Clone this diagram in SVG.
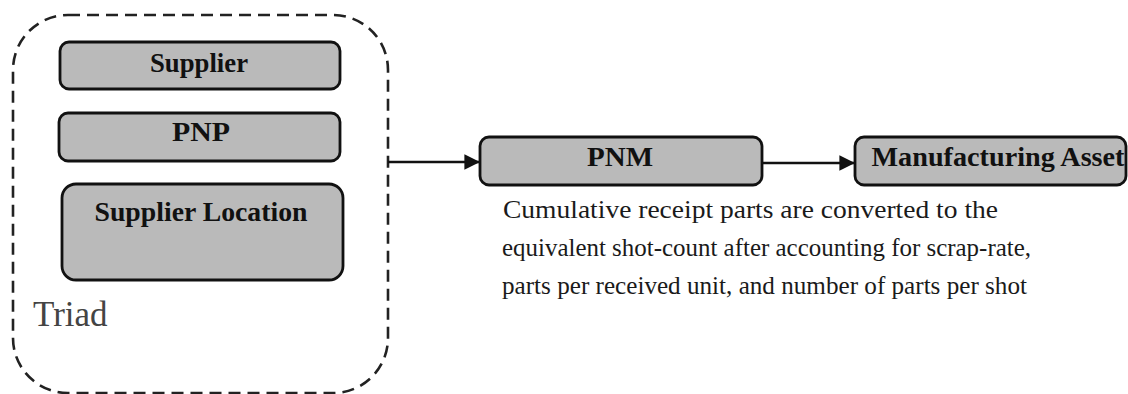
<svg xmlns="http://www.w3.org/2000/svg" width="1128" height="394" viewBox="0 0 1128 394">
  <style>
    .box { fill: #bababa; stroke: #111; stroke-width: 2.8; }
    .label { font-family: "Liberation Serif", "Times New Roman", serif; font-weight: bold; font-size: 27px; fill: #111; text-anchor: middle; }
    .note { font-family: "Liberation Serif", "Times New Roman", serif; font-size: 26px; fill: #1a1a1a; }
    .edge { fill: none; stroke: #111; stroke-width: 2.6; }
    .group { fill: none; stroke: #222; stroke-width: 2.6; stroke-dasharray: 12 7; }
  </style>
  <defs>
    <marker id="arrow" viewBox="0 0 10 10" refX="10" refY="5" markerWidth="7" markerHeight="6" markerUnits="strokeWidth" orient="auto">
      <path d="M0,0 L10,5 L0,10 Z" fill="#111"/>
    </marker>
  </defs>

  <!-- dashed grouping boundary -->
  <g id="triad">
    <rect class="group" x="13" y="15" width="375" height="378" rx="55" ry="55"/>
    <text x="33" y="326" font-family="'Liberation Serif', 'Times New Roman', serif" font-size="35" fill="#444">Triad</text>
  </g>

  <g id="supplier">
    <rect class="box" x="60" y="42" width="280" height="47" rx="9"/>
    <text class="label" x="199" y="72" textLength="98" lengthAdjust="spacingAndGlyphs">Supplier</text>
  </g>

  <g id="pnp">
    <rect class="box" x="59" y="113" width="281" height="48" rx="9"/>
    <text class="label" x="201" y="141" textLength="58" lengthAdjust="spacingAndGlyphs">PNP</text>
  </g>

  <g id="supplier-location">
    <rect class="box" x="62" y="184" width="281" height="96" rx="14"/>
    <text class="label" x="201" y="221" textLength="213" lengthAdjust="spacingAndGlyphs">Supplier Location</text>
  </g>

  <g id="pnm">
    <rect class="box" x="480" y="137" width="282" height="48" rx="9"/>
    <text class="label" x="620" y="166" textLength="66" lengthAdjust="spacingAndGlyphs">PNM</text>
  </g>

  <g id="manufacturing-asset">
    <rect class="box" x="855" y="137" width="271" height="48" rx="9"/>
    <text class="label" x="998" y="166" textLength="253" lengthAdjust="spacingAndGlyphs">Manufacturing Asset</text>
  </g>

  <g id="description">
    <text class="note" x="503" y="218" textLength="495" lengthAdjust="spacingAndGlyphs">Cumulative receipt parts are converted to the</text>
    <text class="note" x="502" y="256" textLength="529" lengthAdjust="spacingAndGlyphs">equivalent shot-count after accounting for scrap-rate,</text>
    <text class="note" x="502" y="294" textLength="525" lengthAdjust="spacingAndGlyphs">parts per received unit, and number of parts per shot</text>
  </g>

  <g id="connectors">
    <line class="edge" x1="388" y1="162" x2="480" y2="162" marker-end="url(#arrow)"/>
    <line class="edge" x1="762" y1="163" x2="855" y2="163" marker-end="url(#arrow)"/>
  </g>
</svg>
